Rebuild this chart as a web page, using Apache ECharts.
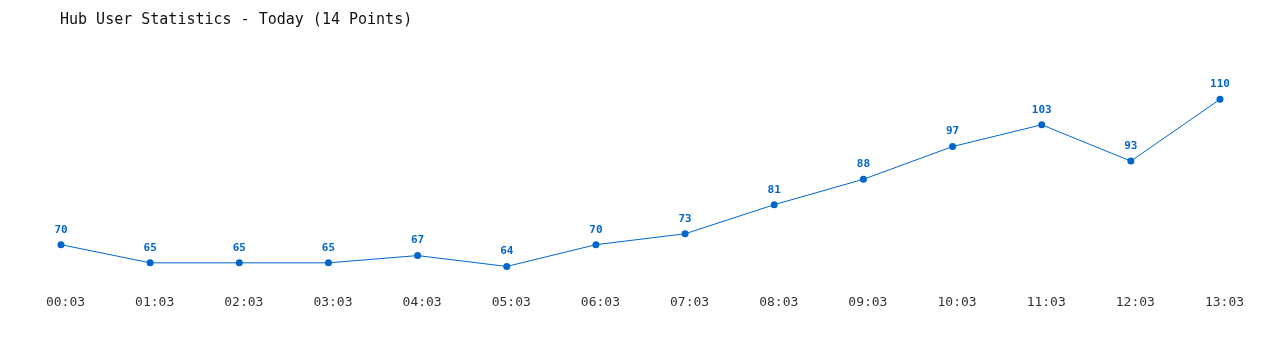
<!DOCTYPE html>
<html><head><meta charset="utf-8">
<script src="https://cdn.jsdelivr.net/npm/echarts@6/dist/echarts.min.js"></script>
<style>html,body{margin:0;padding:0;background:#fff}#c{width:1280px;height:350px}</style>
</head><body><div id="c"></div>
<script>
const categories = ["00:03","01:03","02:03","03:03","04:03","05:03","06:03","07:03","08:03","09:03","10:03","11:03","12:03","13:03"];
const users = [70,65,65,65,67,64,70,73,81,88,97,103,93,110];
const titleText = "Hub User Statistics - Today (14 Points)";
const chart = echarts.init(document.getElementById('c'));
chart.setOption({
  animation: false,
  title: { text: titleText, left: 55, top: 8, textStyle: { fontFamily: "DejaVu Sans Mono", fontSize: 15, fontWeight: "normal", color: "#111" } },
  grid: { left: 61, right: 60, top: 63, bottom: 69 },
  xAxis: { type: "category", data: categories, boundaryGap: false,
    axisLine: { show: false }, axisTick: { show: false }, splitLine: { show: false },
    axisLabel: { margin: 15, padding: [0, 0, 0, 9], fontFamily: "DejaVu Sans Mono", fontSize: 13, color: "#333" } },
  yAxis: { type: "value", min: 60, max: 120, show: false },
  series: [{ type: "line", data: users, symbol: "circle", symbolSize: 7,
    lineStyle: { width: 1, color: "#0066cc" }, itemStyle: { color: "#0066cc" },
    label: { show: true, position: "top", distance: 6, fontFamily: "DejaVu Sans Mono", fontSize: 11, fontWeight: "bold", color: "#0066cc" } }]
});
</script></body></html>
